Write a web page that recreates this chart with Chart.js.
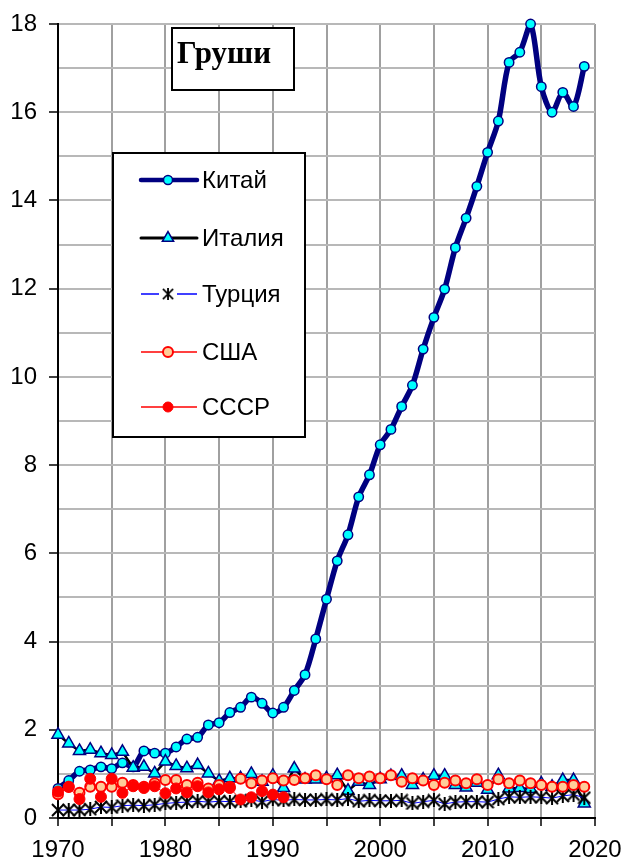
<!DOCTYPE html>
<html><head><meta charset="utf-8">
<script src="https://cdn.jsdelivr.net/npm/chart.js@4"></script>
<style>html,body{margin:0;padding:0;background:#fff}#wrap{width:624px;height:861px}</style>
</head><body><div id="wrap"><canvas id="c" width="624" height="861"></canvas></div>
<script>
const years = [1970,1971,1972,1973,1974,1975,1976,1977,1978,1979,1980,1981,1982,1983,1984,1985,1986,1987,1988,1989,1990,1991,1992,1993,1994,1995,1996,1997,1998,1999,2000,2001,2002,2003,2004,2005,2006,2007,2008,2009,2010,2011,2012,2013,2014,2015,2016,2017,2018,2019];
const china = [0.67,0.85,1.06,1.09,1.16,1.12,1.25,1.16,1.52,1.47,1.47,1.61,1.79,1.83,2.11,2.16,2.39,2.51,2.74,2.6,2.38,2.51,2.89,3.25,4.06,4.96,5.83,6.42,7.28,7.78,8.46,8.81,9.33,9.81,10.63,11.35,11.99,12.93,13.6,14.32,15.09,15.8,17.13,17.36,18.0,16.58,16.0,16.45,16.13,17.04];
const italy = [1.89,1.69,1.52,1.55,1.47,1.43,1.5,1.14,1.16,1.01,1.28,1.18,1.13,1.2,1.01,0.84,0.9,0.9,1.0,0.82,0.96,0.68,1.12,0.87,0.87,0.9,0.97,0.62,0.82,0.75,0.88,0.95,0.96,0.75,0.87,0.96,0.96,0.75,0.69,0.8,0.64,0.97,0.67,0.68,0.66,0.78,0.71,0.86,0.86,0.33];
const turkey = [0.18,0.18,0.18,0.2,0.25,0.24,0.28,0.29,0.28,0.3,0.33,0.35,0.36,0.38,0.36,0.38,0.37,0.38,0.41,0.37,0.42,0.4,0.42,0.41,0.41,0.42,0.41,0.44,0.38,0.4,0.39,0.39,0.4,0.33,0.37,0.4,0.32,0.36,0.37,0.37,0.36,0.43,0.48,0.47,0.48,0.47,0.45,0.5,0.53,0.46];
const usa = [0.54,0.7,0.57,0.71,0.71,0.71,0.8,0.75,0.71,0.79,0.86,0.86,0.75,0.8,0.67,0.75,0.71,0.89,0.79,0.85,0.9,0.85,0.86,0.9,0.97,0.88,0.75,0.97,0.9,0.94,0.9,0.97,0.82,0.9,0.85,0.75,0.8,0.85,0.79,0.88,0.75,0.88,0.79,0.85,0.79,0.75,0.71,0.71,0.75,0.71];
const ussr = [0.6,0.71,0.43,0.89,0.48,0.89,0.57,0.72,0.68,0.72,0.56,0.67,0.58,0.72,0.58,0.65,0.68,0.42,0.47,0.61,0.53,0.47];
const seriesNames = ['Китай','Италия','Турция','США','СССР'];
const chartTitle = 'Груши';
const xTicks = [1970,1980,1990,2000,2010,2020];
const yTicks = [0,2,4,6,8,10,12,14,16,18];

const FONT = '"Liberation Sans", Arial, sans-serif';

function makeAsterisk(){
  const c=document.createElement('canvas'); c.width=14; c.height=14;
  const g=c.getContext('2d'); g.strokeStyle='#000'; g.lineWidth=2;
  g.beginPath();
  g.moveTo(1,1); g.lineTo(13,13);
  g.moveTo(13,1); g.lineTo(1,13);
  g.moveTo(7,0); g.lineTo(7,14);
  g.stroke();
  return c;
}
const aster = makeAsterisk();

function pts(vals){ return vals.map((v,i)=>({x:years[i], y:v})); }

const styles = [
  {line:'#000080', lw:5.5, shape:'circle', r:4.7, fill:'#00FFFF', stroke:'#000080', bw:1.5},
  {line:'#000000', lw:2.5, shape:'triangle', r:7, fill:'#00FFFF', stroke:'#000080', bw:1.5},
  {line:'#0000FF', lw:1, shape:aster, r:7, fill:'#000', stroke:'#000', bw:1},
  {line:'#FF0000', lw:1, shape:'circle', r:5, fill:'#FFCC99', stroke:'#FF0000', bw:2},
  {line:'#FF0000', lw:1, shape:'circle', r:5.5, fill:'#FF0000', stroke:'#FF0000', bw:1}
];
const allVals = [china, italy, turkey, usa, ussr];

const datasets = allVals.map((vals,i)=>{
  const s = styles[i];
  return {
    label: seriesNames[i], data: pts(vals),
    borderColor: s.line, borderWidth: s.lw,
    pointStyle: s.shape, pointRadius: s.r, pointHoverRadius: s.r,
    pointBackgroundColor: s.fill, pointBorderColor: s.stroke, pointBorderWidth: s.bw,
    tension: i===0 ? 0.3 : 0, clip: false, order: 5-i, spanGaps: false
  };
});

const overlay = {
  id:'overlay',
  afterDraw(chart){
    const ctx = chart.ctx;
    ctx.save();
    ctx.fillStyle='#fff'; ctx.strokeStyle='#000'; ctx.lineWidth=2;
    ctx.fillRect(172,28,122,62); ctx.strokeRect(172,28,122,62);
    ctx.fillStyle='#000'; ctx.font='bold 31px "Liberation Serif", "Times New Roman", serif';
    ctx.textAlign='left'; ctx.textBaseline='alphabetic';
    ctx.fillText(chartTitle,177,63);
    ctx.fillStyle='#fff';
    ctx.fillRect(113,153,192,284); ctx.strokeRect(113,153,192,284);
    const ys=[180,238,294,352,407];
    ctx.font='24px '+FONT; ctx.textBaseline='middle';
    for(let i=0;i<5;i++){
      const s=styles[i], y=ys[i];
      ctx.strokeStyle=s.line; ctx.lineWidth = i===0?4.5:(i===1?3:1.5);
      ctx.lineCap = i<2?'round':'butt';
      ctx.beginPath(); ctx.moveTo(141,y); ctx.lineTo(197,y); ctx.stroke();
      const mx=168;
      if(s.shape==='circle'){
        ctx.beginPath(); ctx.arc(mx,y,i===0?4.5:5,0,Math.PI*2);
        ctx.fillStyle=s.fill; ctx.fill();
        ctx.lineWidth=s.bw; ctx.strokeStyle=s.stroke; ctx.stroke();
      } else if(s.shape==='triangle'){
        const r=6.5; ctx.beginPath();
        ctx.moveTo(mx, y-r);
        ctx.lineTo(mx+r*Math.sin(2*Math.PI/3), y-r*Math.cos(2*Math.PI/3));
        ctx.lineTo(mx+r*Math.sin(4*Math.PI/3), y-r*Math.cos(4*Math.PI/3));
        ctx.closePath(); ctx.fillStyle=s.fill; ctx.fill();
        ctx.lineWidth=s.bw; ctx.strokeStyle=s.stroke; ctx.stroke();
      } else {
        ctx.fillStyle='#fff'; ctx.fillRect(mx-9,y-3,18,6);
        ctx.drawImage(aster, mx-6, y-6, 12, 12);
      }
      ctx.fillStyle='#000';
      ctx.fillText(seriesNames[i],202,y+1);
    }
    ctx.restore();
  }
};

new Chart(document.getElementById('c'), {
  type:'line',
  data:{datasets},
  plugins:[overlay],
  options:{
    responsive:false, animation:false, devicePixelRatio:1,
    layout:{padding:{top:24,right:29,left:0,bottom:0}},
    plugins:{legend:{display:false}, tooltip:{enabled:false}, title:{display:false}},
    scales:{
      x:{type:'linear', min:1970, max:2020,
        afterFit(s){ s.height=43; s.paddingLeft=0; s.paddingRight=0; },
        ticks:{stepSize:5, autoSkip:false, maxRotation:0, color:'#000', padding:10,
          font:{family:FONT, size:24},
          callback:(v)=> xTicks.includes(v) ? String(v) : ''},
        grid:{color:'#a0a0a0', lineWidth:2, tickLength:8, tickColor:'#000', tickWidth:1.5},
        border:{color:'#000', width:2}
      },
      y:{min:0, max:18,
        afterFit(s){ s.width=58; s.paddingTop=0; s.paddingBottom=0; },
        ticks:{stepSize:1, autoSkip:false, color:'#000', padding:12,
          font:{family:FONT, size:24},
          callback:(v)=> yTicks.includes(v) ? String(v) : ''},
        grid:{color:'#b8b8b8', lineWidth:2, tickLength:9, tickWidth:1.5,
          tickColor:(c)=> (c.tick && yTicks.includes(c.tick.value)) ? '#000' : 'rgba(0,0,0,0)'},
        border:{color:'#000', width:2}
      }
    }
  }
});
</script></body></html>
